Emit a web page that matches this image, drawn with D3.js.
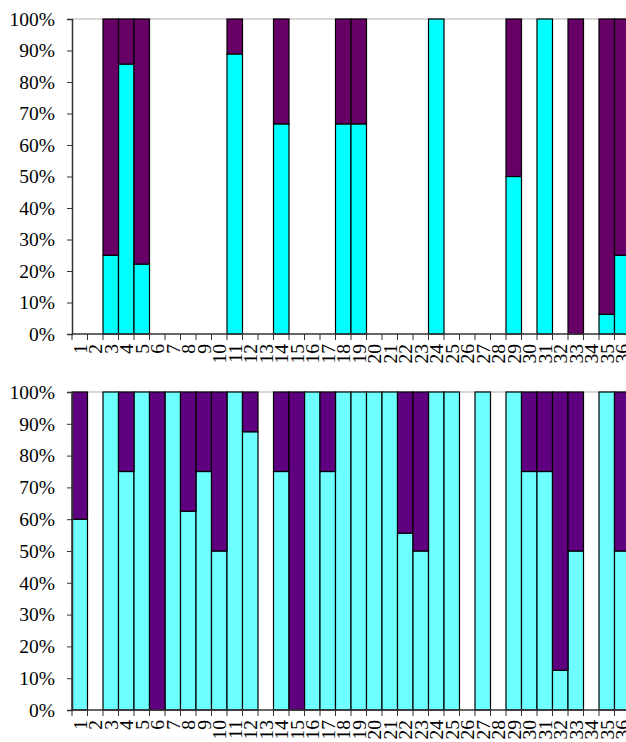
<!DOCTYPE html>
<html>
<head>
<meta charset="utf-8">
<script src="https://cdn.jsdelivr.net/npm/d3@7"></script>
<style>
  body { margin: 0; background: #fff; }
  svg { display: block; position: absolute; left: 0; overflow: hidden; }
  text { font-family: "Liberation Serif", "DejaVu Serif", serif; fill: #000; }
</style>
</head>
<body>
<script>
// categories 1..36
var categories = d3.range(1, 37).map(String)

// share of the cyan series in %, null = no bar
var topValues = [null, null, 25, 85.7, 22.2, null, null, null, null, null,
  88.9, null, null, 66.7, null, null, null, 66.7, 66.7, null,
  null, null, null, 100, null, null, null, null, 50, null,
  100, null, 0, null, 6.25, 25]

var bottomValues = [60, null, 100, 75, 100, 0, 100, 62.5, 75, 50,
  100, 87.5, null, 75, 0, 100, 75, 100, 100, 100,
  100, 55.6, 50, 100, 100, null, 100, null, 100, 75,
  75, 12.5, 50, null, 100, 50]

var yTicks = [0, 10, 20, 30, 40, 50, 60, 70, 80, 90, 100]

function drawPanel(values, opts) {
  var svg = d3.select("body").append("svg")
    .attr("width", 626)
    .attr("height", opts.height)
    .style("top", opts.top + "px")

  var x = d3.scaleBand().domain(categories).range([72, 72 + 36 * 15.5]).padding(0)
  var y = d3.scaleLinear().domain([0, 100]).range([opts.y0, opts.y100])

  // top border of plot area
  svg.append("line")
    .attr("x1", 72).attr("x2", 626)
    .attr("y1", y(100)).attr("y2", y(100))
    .attr("stroke", "#b0b0b0").attr("stroke-width", 1)

  var rows = categories.map(function (c, i) { return { cat: c, v: values[i] } })
    .filter(function (d) { return d.v !== null })

  var g = svg.append("g")
  // cyan part
  g.selectAll(".low").data(rows.filter(function (d) { return d.v > 0 }))
    .enter().append("rect")
    .attr("x", function (d) { return x(d.cat) })
    .attr("y", function (d) { return y(d.v) })
    .attr("width", x.bandwidth())
    .attr("height", function (d) { return y(0) - y(d.v) })
    .attr("fill", opts.c1).attr("stroke", "#000").attr("stroke-width", 1.2)
  // purple part
  g.selectAll(".high").data(rows.filter(function (d) { return d.v < 100 }))
    .enter().append("rect")
    .attr("x", function (d) { return x(d.cat) })
    .attr("y", y(100))
    .attr("width", x.bandwidth())
    .attr("height", function (d) { return y(d.v) - y(100) })
    .attr("fill", opts.c2).attr("stroke", "#000").attr("stroke-width", 1.2)

  var yAxis = d3.axisLeft(y).tickValues(yTicks).tickSize(5).tickPadding(12)
    .tickFormat(function (d) { return d + "%" })
  var ya = svg.append("g").attr("transform", "translate(72,0)").call(yAxis)
  ya.select(".domain").attr("stroke", "#333").attr("stroke-width", 1.5)
  ya.selectAll(".tick line").attr("stroke", "#333")
  ya.selectAll("text").style("font-size", "19.5px").attr("fill", "#000")

  // x axis: ticks on band boundaries
  var xa = svg.append("g")
  xa.append("line")
    .attr("x1", 72).attr("x2", 626)
    .attr("y1", y(0)).attr("y2", y(0))
    .attr("stroke", "#333").attr("stroke-width", 1.5)
  xa.selectAll(".xt").data(categories.concat(["end"]))
    .enter().append("line")
    .attr("x1", function (d, i) { return 72 + i * x.step() })
    .attr("x2", function (d, i) { return 72 + i * x.step() })
    .attr("y1", y(0)).attr("y2", y(0) + 6)
    .attr("stroke", "#333")
  xa.selectAll(".xl").data(categories)
    .enter().append("text")
    .attr("transform", function (d) {
      return "translate(" + (x(d) + x.bandwidth() / 2) + "," + (y(0) + 10) + ") rotate(-90)"
    })
    .attr("text-anchor", "end")
    .attr("dy", "0.35em")
    .style("font-size", "19.5px")
    .text(function (d) { return d })
}

drawPanel(topValues, { top: 0, height: 369, y0: 334, y100: 19, c1: "#00ffff", c2: "#660066" })
drawPanel(bottomValues, { top: 372, height: 370, y0: 338, y100: 20, c1: "#6effff", c2: "#5f0080" })
</script>
</body>
</html>
